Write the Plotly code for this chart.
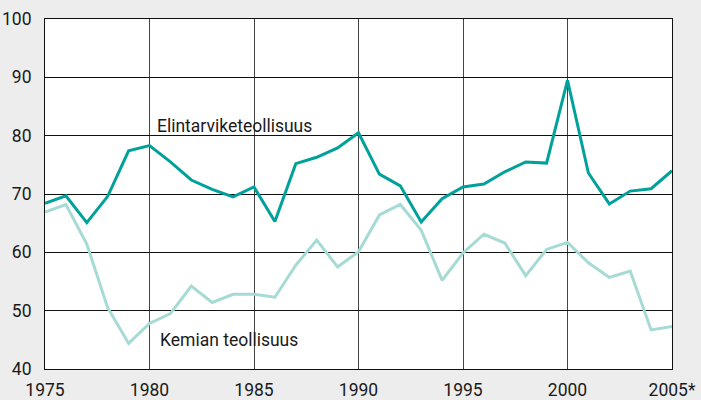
import plotly.graph_objects as go

years = list(range(1975, 2006))
elintarvike = [68.4, 69.7, 65.1, 69.6, 77.4, 78.3, 75.5, 72.4, 70.8, 69.5,
               71.2, 65.3, 75.2, 76.3, 77.9, 80.5, 73.4, 71.4, 65.2, 69.2,
               71.2, 71.7, 73.8, 75.5, 75.3, 89.5, 73.6, 68.3, 70.5, 70.9, 74.0]
kemia = [66.9, 68.2, 61.4, 50.5, 44.4, 47.8, 49.5, 54.2, 51.4, 52.8,
         52.8, 52.3, 57.8, 62.1, 57.5, 60.1, 66.4, 68.2, 63.8, 55.2,
         59.9, 63.1, 61.6, 56.0, 60.5, 61.7, 58.2, 55.7, 56.8, 46.7, 47.3]
x_tickvals = [1975, 1980, 1985, 1990, 1995, 2000, 2005]
x_ticktext = ["1975", "1980", "1985", "1990", "1995", "2000", "2005*"]
y_tickvals = [40, 50, 60, 70, 80, 90, 100]

FONT = "Roboto, sans-serif"

fig = go.Figure()
fig.add_trace(go.Scatter(x=years, y=kemia, mode="lines",
                         line=dict(color="#a6dbd5", width=3), showlegend=False,
                         hoverinfo="skip"))
fig.add_trace(go.Scatter(x=years, y=elintarvike, mode="lines",
                         line=dict(color="#00a19a", width=3), showlegend=False,
                         hoverinfo="skip"))

fig.add_annotation(x=1980.37, y=81.6, text="Elintarviketeollisuus", showarrow=False,
                   xanchor="left", yanchor="middle", xshift=-2,
                   font=dict(size=17.5, color="#1a1a1a"))
fig.add_annotation(x=1980.52, y=45.0, text="Kemian teollisuus", showarrow=False,
                   xanchor="left", yanchor="middle", xshift=-2,
                   font=dict(size=17.5, color="#1a1a1a"))

fig.update_layout(
    width=701, height=400,
    margin=dict(l=44.5, r=28.5, t=18.5, b=31, autoexpand=False),
    paper_bgcolor="#ededed", plot_bgcolor="white",
    font=dict(family=FONT, size=17.5, color="#1a1a1a"),
)
fig.update_xaxes(range=[1975, 2005], tickvals=x_tickvals, ticktext=x_ticktext,
                 showgrid=True, gridcolor="#444", gridwidth=1,
                 showline=True, linecolor="#111", linewidth=1, mirror=True,
                 ticks="", ticklabelstandoff=5, zeroline=False)
fig.update_yaxes(range=[40, 100], tickvals=y_tickvals,
                 showgrid=True, gridcolor="#111", gridwidth=1,
                 showline=True, linecolor="#111", linewidth=1, mirror=True,
                 ticks="", ticklabelstandoff=9, zeroline=False)

fig.write_html("out.html", config={"displayModeBar": False},
               post_script="document.body.style.margin='0';document.body.style.padding='0';")
